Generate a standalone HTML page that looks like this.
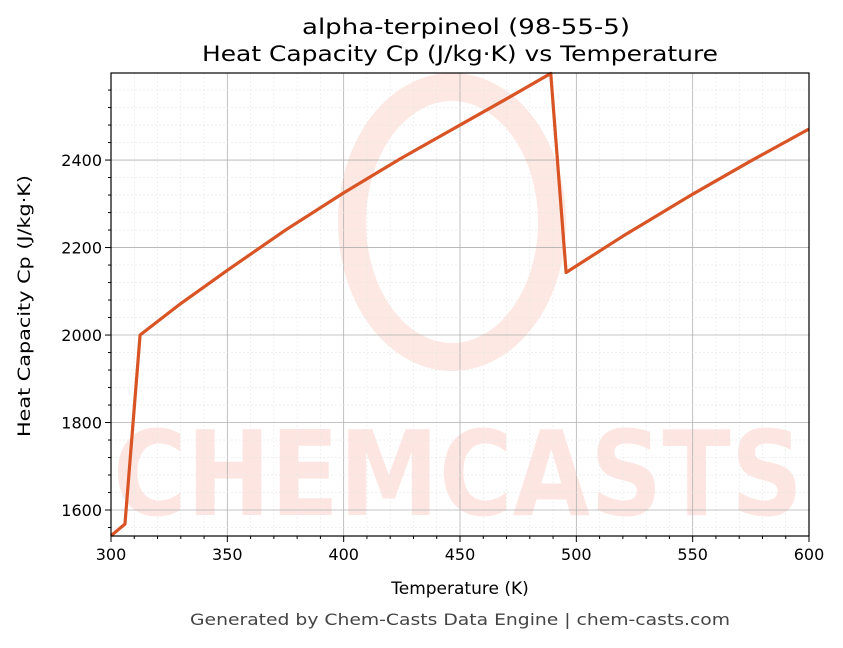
<!DOCTYPE html>
<html><head><meta charset="utf-8"><style>
body{margin:0;background:#fff;font-family:"DejaVu Sans","Liberation Sans",sans-serif;}
</style></head><body>
<svg id="chart" width="843" height="644" xmlns="http://www.w3.org/2000/svg" font-family="DejaVu Sans, Liberation Sans, sans-serif">
<rect width="843" height="644" fill="#fff"/>
<g id="wm" opacity="0.13">
<ellipse cx="452" cy="222" rx="100" ry="135" fill="none" stroke="#f04a2a" stroke-width="28"/>
<text x="458" y="515" text-anchor="middle" font-size="118" font-weight="bold" fill="#f04a2a" textLength="690" lengthAdjust="spacingAndGlyphs">CHEMCASTS</text>
</g>
<g id="grid"></g>
<g id="plot"></g>
<rect x="111" y="73" width="698" height="463" fill="none" stroke="#000" stroke-width="1.2"/>
<g id="axes"></g>
<text x="466" y="34" text-anchor="middle" font-size="21" textLength="328" lengthAdjust="spacingAndGlyphs">alpha-terpineol (98-55-5)</text>
<text x="460" y="61" text-anchor="middle" font-size="21" textLength="516" lengthAdjust="spacingAndGlyphs">Heat Capacity Cp (J/kg·K) vs Temperature</text>
<text x="460" y="594" text-anchor="middle" font-size="17">Temperature (K)</text>
<text x="30" y="306" text-anchor="middle" font-size="17" textLength="262" lengthAdjust="spacingAndGlyphs" transform="rotate(-90 30 306)">Heat Capacity Cp (J/kg·K)</text>
<text x="460" y="625" text-anchor="middle" font-size="16" fill="#444" textLength="540" lengthAdjust="spacingAndGlyphs">Generated by Chem-Casts Data Engine | chem-casts.com</text>
</svg>
<script>
const temps=[300,306,312.5,330,350,375,400,425,450,470,489,495.6,520,550,575,600];
const cpValues=[1541,1568,2000,2072,2148,2240,2325,2405,2480,2540,2598,2143,2226,2322,2398,2471];
const xTicks=[300,350,400,450,500,550,600];
const yTicks=[1600,1800,2000,2200,2400];
const NS="http://www.w3.org/2000/svg";
const X0=111,X1=809,Y0=536,Y1=73,xmin=300,xmax=600,ymin=1540.6,ymax=2599;
const sx=v=>X0+(v-xmin)/(xmax-xmin)*(X1-X0);
const sy=v=>Y0-(v-ymin)/(ymax-ymin)*(Y0-Y1);
function mk(t,a,p){const e=document.createElementNS(NS,t);for(const k in a)e.setAttribute(k,a[k]);p.appendChild(e);return e;}
const grid=document.getElementById('grid'),axes=document.getElementById('axes'),plot=document.getElementById('plot');
for(let v=300;v<=600;v+=10){const g=mk('line',{x1:sx(v),x2:sx(v),y1:Y1,y2:Y0,stroke:v%50?'#e6e6e6':'#b0b0b0','stroke-width':v%50?0.6:0.8,'stroke-dasharray':v%50?'2,2':''},grid);


mk('line',{x1:sx(v),x2:sx(v),y1:Y0,y2:Y0+(v%50?3:6),stroke:'#000'},axes);}
for(let v=1560;v<=2580;v+=40){if(v%200===0)continue;const g=mk('line',{x1:X0,x2:X1,y1:sy(v),y2:sy(v),stroke:'#e6e6e6','stroke-width':0.6,'stroke-dasharray':'2,2'},grid);


mk('line',{x1:X0-3,x2:X0,y1:sy(v),y2:sy(v),stroke:'#000'},axes);}
xTicks.forEach(v=>{const t=mk('text',{x:sx(v),y:Y0+24,'text-anchor':'middle','font-size':16},axes);t.textContent=v;

});
yTicks.forEach(v=>{const g=mk('line',{x1:X0,x2:X1,y1:sy(v),y2:sy(v),stroke:'#b0b0b0','stroke-width':0.8},grid);


mk('line',{x1:X0-6,x2:X0,y1:sy(v),y2:sy(v),stroke:'#000'},axes);
const t=mk('text',{x:X0-9,y:sy(v)+6,'text-anchor':'end','font-size':16},axes);t.textContent=v;

});
const pl=mk('polyline',{points:temps.map((t,i)=>sx(t)+','+sy(cpValues[i])).join(' '),fill:'none',stroke:'#d95425','stroke-width':3.2,'stroke-linejoin':'round'},plot);


</script>
</body></html>
